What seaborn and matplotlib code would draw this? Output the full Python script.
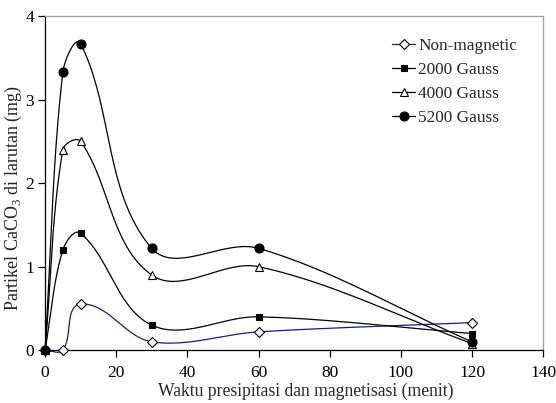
import matplotlib
matplotlib.use("Agg")
import matplotlib.pyplot as plt
import numpy as np
import pandas as pd
import seaborn as sns

# Data.
time_min = [0, 5, 10, 30, 60, 120]
non_magnetic = [0.0, 0.0, 0.55, 0.10, 0.22, 0.33]
gauss_2000 = [0.0, 1.20, 1.40, 0.30, 0.40, 0.20]
gauss_4000 = [0.0, 2.40, 2.50, 0.90, 1.00, 0.08]
gauss_5200 = [0.0, 3.33, 3.67, 1.22, 1.22, 0.10]

series_names = ["Non-magnetic", "2000 Gauss", "4000 Gauss", "5200 Gauss"]
series_values = [non_magnetic, gauss_2000, gauss_4000, gauss_5200]

# pixels per data unit, used so the smoothing works like a spreadsheet does (screen space)
SX, SY = 3.557, 83.5


def smooth_curve(x, y, n=40, k=1 / 3):
    """Smoothed line: Bezier segments, tangent along neighbours, length scaled by chord."""
    p = np.column_stack([np.asarray(x, float) * SX, np.asarray(y, float) * SY])
    p = np.vstack([p[:1], p, p[-1:]])
    t = np.linspace(0, 1, n)[:, None]
    out = []
    for i in range(1, len(p) - 2):
        p0, p3 = p[i], p[i + 1]
        L = np.linalg.norm(p3 - p0)
        d1 = p[i + 1] - p[i - 1]
        d2 = p[i + 2] - p[i]
        c1 = p0 + d1 / (np.linalg.norm(d1) or 1) * L * k
        c2 = p3 - d2 / (np.linalg.norm(d2) or 1) * L * k
        b = (1 - t) ** 3 * p0 + 3 * (1 - t) ** 2 * t * c1 + 3 * (1 - t) * t ** 2 * c2 + t ** 3 * p3
        out.append(b)
    out = np.vstack(out)
    return out[:, 0] / SX, out[:, 1] / SY


points = pd.DataFrame(
    [(t, v, name) for name, vals in zip(series_names, series_values) for t, v in zip(time_min, vals)],
    columns=["waktu", "partikel", "seri"],
)
curves = []
for name, vals in zip(series_names, series_values):
    cx, cy = smooth_curve(time_min, vals)
    curves.append(pd.DataFrame({"waktu": cx, "partikel": cy, "seri": name}))
curves = pd.concat(curves, ignore_index=True)

colors = {"Non-magnetic": "#1a1a8c", "2000 Gauss": "black", "4000 Gauss": "black", "5200 Gauss": "black"}
markers = {"Non-magnetic": "D", "2000 Gauss": "s", "4000 Gauss": "^", "5200 Gauss": "o"}
faces = {"Non-magnetic": "white", "2000 Gauss": "black", "4000 Gauss": "white", "5200 Gauss": "black"}
msizes = {"Non-magnetic": 5, "2000 Gauss": 5, "4000 Gauss": 6, "5200 Gauss": 6.5}

sns.set_theme(style="ticks")
plt.rcParams["font.family"] = ["Liberation Serif", "DejaVu Serif"]
plt.rcParams["mathtext.fontset"] = "custom"
plt.rcParams["mathtext.rm"] = "Liberation Serif"

fig = plt.figure(figsize=(5.56, 4.03), dpi=100)
ax = fig.add_axes([0.081, 0.131, 0.896, 0.829])

for name in series_names:
    sub = curves[curves["seri"] == name]
    sns.lineplot(data=sub, x="waktu", y="partikel", sort=False, estimator=None,
                 color=colors[name], linewidth=0.9, ax=ax, legend=False, clip_on=False)
    pts = points[points["seri"] == name]
    ax.plot(pts["waktu"], pts["partikel"], linestyle="none", marker=markers[name],
            markersize=msizes[name], markerfacecolor=faces[name], markeredgecolor="black",
            markeredgewidth=0.8, clip_on=False, zorder=5)

# Legend handles
handles = []
for name in series_names:
    h, = ax.plot([], [], color=colors[name], linewidth=0.9, marker=markers[name],
                 markersize=msizes[name], markerfacecolor=faces[name],
                 markeredgecolor="black", markeredgewidth=0.8)
    handles.append(h)
ax.legend(handles, series_names, loc="upper left", bbox_to_anchor=(0.68, 0.96), frameon=False,
          fontsize=12.4, handlelength=1.3, handletextpad=0.2, labelspacing=0.45, borderpad=0)

ax.set_xlim(0, 140)
ax.set_ylim(0, 4)
ax.set_xticks(np.arange(0, 141, 20))
ax.set_yticks(np.arange(0, 5, 1))
ax.tick_params(direction="out", length=5, width=0.9, labelsize=12.5, colors="black", pad=3)
ax.tick_params(axis="x", pad=6)
ax.set_xlabel("Waktu presipitasi dan magnetisasi (menit)", fontsize=12.7)
ax.set_ylabel("Partikel CaCO$_3$ di larutan (mg)", fontsize=13)
ax.xaxis.set_label_coords(0.524, -0.098)
ax.yaxis.set_label_coords(-0.042, 0.455)

for side in ["left", "bottom"]:
    ax.spines[side].set_color("black")
    ax.spines[side].set_linewidth(0.9)
for side in ["top", "right"]:
    ax.spines[side].set_color("#a0a0a0")
    ax.spines[side].set_linewidth(1.0)

fig.savefig("out.png", dpi=100)
